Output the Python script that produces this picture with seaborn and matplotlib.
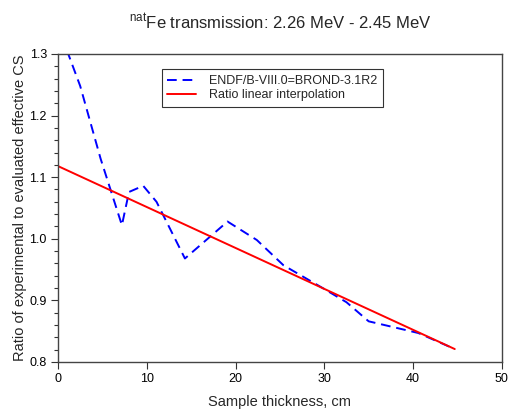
import matplotlib
matplotlib.use("Agg")
import matplotlib.pyplot as plt
import seaborn as sns
import pandas as pd
from matplotlib.ticker import MultipleLocator, FormatStrFormatter

sns.set_theme(style="ticks")
plt.rcParams['font.family'] = ['Liberation Sans', 'DejaVu Sans']

# Data
thickness = [1.0, 2.5, 4.8, 7.2, 8.0, 9.6, 11.1, 14.3, 19.1, 22.4, 25.4,
             29.7, 32.5, 35.0, 40.6, 44.7]
ratio_endf = [1.306, 1.248, 1.130, 1.022, 1.076, 1.086, 1.060, 0.968, 1.028,
              0.998, 0.957, 0.921, 0.897, 0.866, 0.847, 0.821]
fit_x = [0.0, 44.7]
fit_y = [1.118, 0.821]
label_endf = "ENDF/B-VIII.0=BROND-3.1R2"
label_fit = "Ratio linear interpolation"

df_endf = pd.DataFrame({"x": thickness, "y": ratio_endf})
df_fit = pd.DataFrame({"x": fit_x, "y": fit_y})

fig = plt.figure(figsize=(5.11, 4.12), dpi=100)
ax = fig.add_axes([0.1135, 0.1214, 0.8685, 0.7476])

sns.lineplot(data=df_endf, x="x", y="y", ax=ax, color="#0000ff", lw=1.4,
             label=label_endf, sort=False)
ax.lines[-1].set_dashes([5, 3])
sns.lineplot(data=df_fit, x="x", y="y", ax=ax, color="#ff0000", lw=1.4,
             label=label_fit, sort=False)

ax.set_xlim(0, 50)
ax.set_ylim(0.8, 1.3)
ax.xaxis.set_major_locator(MultipleLocator(10))
ax.yaxis.set_major_locator(MultipleLocator(0.1))
ax.yaxis.set_minor_locator(MultipleLocator(0.02))
ax.yaxis.set_major_formatter(FormatStrFormatter('%.1f'))
ax.tick_params(axis='both', which='major', direction='out', length=5, width=0.8,
               labelsize=9, colors='#333333', labelcolor='black', pad=3)
ax.tick_params(axis='y', which='minor', direction='out', length=3, width=0.8,
               colors='#333333')
for s in ax.spines.values():
    s.set_visible(True)
    s.set_color('#444444')
    s.set_linewidth(1.0)

ax.set_xlabel("Sample thickness, cm", fontsize=10.5, labelpad=7)
ax.set_ylabel("Ratio of experimental to evaluated effective CS", fontsize=10.5,
              labelpad=1.5)
fig.text(0.548, 0.946, r"$^{\mathregular{nat}}$Fe transmission: 2.26 MeV - 2.45 MeV",
         ha='center', va='center', fontsize=12)

leg = ax.legend(loc='upper left', bbox_to_anchor=(0.234, 0.95), fontsize=9,
                frameon=True, fancybox=False, handlelength=2.3, borderpad=0.45,
                labelspacing=0.2, handletextpad=1.0, borderaxespad=0)
leg.get_frame().set_edgecolor('black')
leg.get_frame().set_linewidth(0.8)

fig.savefig("out.png", dpi=100)
